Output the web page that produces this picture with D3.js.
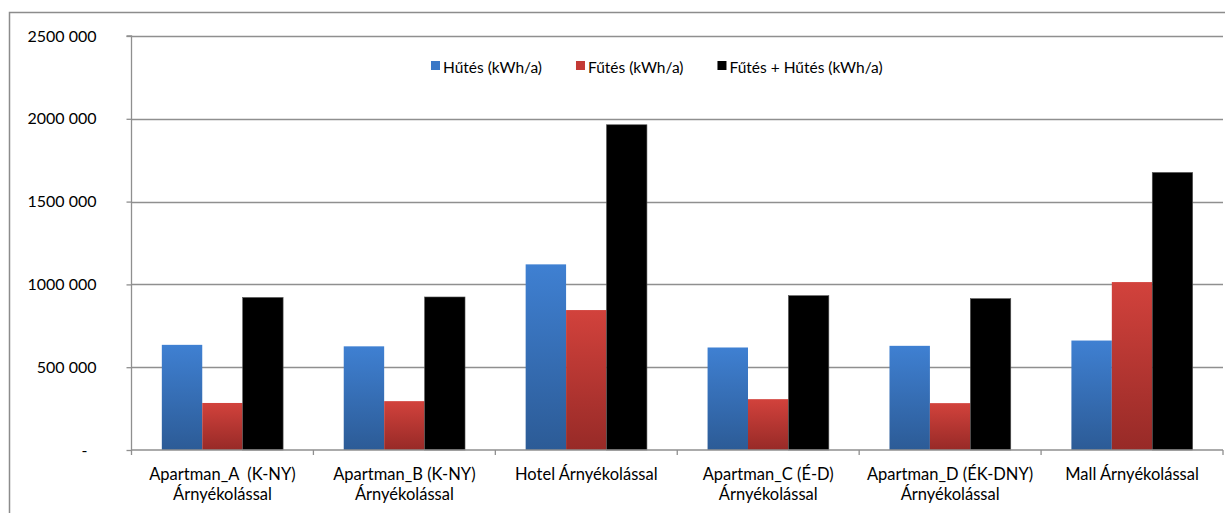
<!DOCTYPE html>
<html>
<head>
<meta charset="utf-8">
<script src="https://cdn.jsdelivr.net/npm/d3@7"></script>
<style>
  html, body { margin: 0; padding: 0; background: #ffffff; }
  svg { display: block; }
  text { font-family: Lato, "Open Sans", sans-serif; fill: #000000; }
</style>
</head>
<body>
<svg id="chart" width="1225" height="513"></svg>
<script>
// Categories (two-line labels split on "\n")
const categories = [
  "Apartman_A  (K-NY)\nÁrnyékolással",
  "Apartman_B (K-NY)\nÁrnyékolással",
  "Hotel Árnyékolással",
  "Apartman_C (É-D)\nÁrnyékolással",
  "Apartman_D (ÉK-DNY)\nÁrnyékolással",
  "Mall Árnyékolással"
];
const seriesNames = ["Hűtés (kWh/a)", "Fűtés (kWh/a)", "Fűtés + Hűtés (kWh/a)"];
const cooling = [635000, 626000, 1121000, 619000, 629000, 661000];
const heating = [284000, 295000, 845000, 307000, 283000, 1014000];
const total   = [921000, 924000, 1964000, 932000, 914000, 1676000];
const yTickValues = [0, 500000, 1000000, 1500000, 2000000, 2500000];
const yTickLabels = ["-", "500 000", "1000 000", "1500 000", "2000 000", "2500 000"];

const seriesValues = [cooling, heating, total];
const svg = d3.select("#chart");

// Chart area frame
svg.append("rect")
  .attr("x", 9.5).attr("y", 12.5)
  .attr("width", 1240).attr("height", 540)
  .attr("fill", "#ffffff").attr("stroke", "#8c8c8c").attr("stroke-width", 1.5);

const plot = { left: 131.5, right: 1223, top: 36, bottom: 450 };

const y = d3.scaleLinear().domain([0, 2500000]).range([plot.bottom, plot.top]);
const x0 = d3.scaleBand().domain(categories).range([plot.left, plot.right]).padding(0);
const x1 = d3.scaleBand().domain(seriesNames).range([0, x0.bandwidth()])
  .paddingInner(0).paddingOuter(0.75);

// Gradients per series (light at top, dark at bottom)
const defs = svg.append("defs");
const grads = [
  { id: "gBlue", top: "#3f80d2", bottom: "#2c5b96" },
  { id: "gRed",  top: "#d2423c", bottom: "#972a27" },
  { id: "gBlack", top: "#000000", bottom: "#000000" }
];
grads.forEach(g => {
  const lg = defs.append("linearGradient").attr("id", g.id)
    .attr("x1", 0).attr("y1", 0).attr("x2", 0).attr("y2", 1);
  lg.append("stop").attr("offset", "0%").attr("stop-color", g.top);
  lg.append("stop").attr("offset", "100%").attr("stop-color", g.bottom);
});
const legendColors = ["#3b78c6", "#c43a35", "#000000"];

// Horizontal gridlines
svg.append("g")
  .selectAll("line")
  .data(yTickValues.filter(v => v > 0))
  .join("line")
  .attr("x1", plot.left).attr("x2", plot.right)
  .attr("y1", d => Math.round(y(d)) + 0.5).attr("y2", d => Math.round(y(d)) + 0.5)
  .attr("stroke", "#8f8f8f").attr("stroke-width", 1.3);

// Y axis
const yAxis = d3.axisLeft(y)
  .tickValues(yTickValues)
  .tickSize(5)
  .tickPadding(30)
  .tickFormat((d, i) => yTickLabels[i]);
const gy = svg.append("g").attr("transform", `translate(${plot.left},0)`).call(yAxis);
gy.select(".domain").attr("stroke", "#8f8f8f").attr("stroke-width", 1.3)
  .attr("d", `M-5,${plot.top}H0V${plot.bottom}`);
gy.selectAll(".tick line").attr("stroke", "#8f8f8f").attr("stroke-width", 1.3);
gy.selectAll(".tick text")
  .attr("font-size", 16)
  .attr("fill", "#000000")
  .attr("dx", (d, i) => yTickLabels[i] === "-" ? -9 : 0)
  .attr("font-family", "Lato, 'Open Sans', sans-serif");

// Bars
const groups = svg.append("g").selectAll("g")
  .data(categories)
  .join("g")
  .attr("transform", d => `translate(${x0(d)},0)`);
groups.selectAll("rect")
  .data((d, ci) => seriesNames.map((s, si) => ({ s, si, v: seriesValues[si][ci] })))
  .join("rect")
  .attr("x", d => x1(d.s))
  .attr("width", x1.bandwidth())
  .attr("y", d => y(d.v))
  .attr("height", d => y(0) - y(d.v))
  .attr("fill", d => `url(#${grads[d.si].id})`)
  .attr("stroke", d => d.si === 2 ? "#555555" : "none")
  .attr("stroke-width", 0.6);

// X axis baseline and category boundary ticks
const xAxis = d3.axisBottom(x0).tickSize(0).tickPadding(0).tickFormat(() => "");
const gx = svg.append("g").attr("transform", `translate(0,${plot.bottom})`).call(xAxis);
gx.select(".domain").attr("stroke", "#8f8f8f").attr("stroke-width", 1.3)
  .attr("d", `M${plot.left},0H${plot.right}`);
const boundaries = categories.map(c => x0(c)).concat([x0(categories[categories.length - 1]) + x0.bandwidth()]);
gx.selectAll(".bnd").data(boundaries).join("line").attr("class", "bnd")
  .attr("x1", d => d).attr("x2", d => d).attr("y1", 0).attr("y2", 5)
  .attr("stroke", "#8f8f8f").attr("stroke-width", 1.3);

// Category labels
const labels = svg.append("g").selectAll("text")
  .data(categories)
  .join("text")
  .attr("x", d => x0(d) + x0.bandwidth() / 2)
  .attr("y", 480)
  .attr("text-anchor", "middle")
  .attr("font-size", 16.5)
  .attr("xml:space", "preserve")
  .style("white-space", "pre");
labels.each(function (d) {
  const t = d3.select(this);
  d.split("\n").forEach((line, i) => {
    t.append("tspan").attr("x", x0(d) + x0.bandwidth() / 2)
      .attr("dy", i === 0 ? 0 : 20).text(line);
  });
});

// Legend
const legend = svg.append("g").attr("transform", "translate(431,0)");
let lx = 0;
seriesNames.forEach((name, i) => {
  legend.append("rect").attr("x", lx).attr("y", 61).attr("width", 9).attr("height", 9)
    .attr("fill", legendColors[i]);
  const t = legend.append("text").attr("x", lx + 12).attr("y", 73)
    .attr("font-size", 15.5).text(name);
  lx += 12 + t.node().getComputedTextLength() + 34;
});
</script>
</body>
</html>
